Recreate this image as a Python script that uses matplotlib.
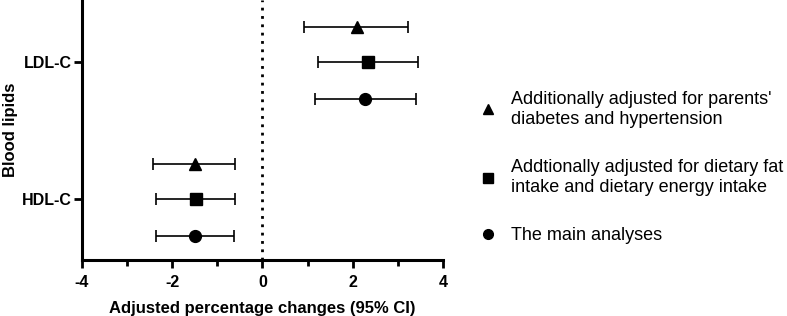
import numpy as np
import matplotlib
matplotlib.use("Agg")
import matplotlib.pyplot as plt
from matplotlib.lines import Line2D

plt.rcParams['font.family'] = ['Liberation Sans', 'DejaVu Sans']
plt.rcParams['axes.unicode_minus'] = False

# data
lipids = ["LDL-C", "HDL-C"]
lipid_pos = [5.42, 1.67]
models = ["Additionally adjusted for parents'\ndiabetes and hypertension",
          "Addtionally adjusted for dietary fat\nintake and dietary energy intake",
          "The main analyses"]
model_markers = ["^", "s", "o"]
model_offset = [0.97, 0.0, -1.02]

est = {"LDL-C": [2.09, 2.33, 2.28], "HDL-C": [-1.50, -1.47, -1.49]}
lo = {"LDL-C": [0.93, 1.22, 1.16], "HDL-C": [-2.42, -2.36, -2.36]}
hi = {"LDL-C": [3.22, 3.45, 3.40], "HDL-C": [-0.60, -0.60, -0.62]}

fig = plt.figure(figsize=(7.87, 3.16), dpi=100)
ax = fig.add_axes([0.104, 0.177, 0.459, 0.823])

for j, m in enumerate(models):
    for i, lip in enumerate(lipids):
        y = lipid_pos[i] + model_offset[j]
        e = est[lip][j]
        ax.errorbar(e, y, xerr=[[e - lo[lip][j]], [hi[lip][j] - e]],
                    fmt=model_markers[j], color='black', ms=8.5,
                    elinewidth=1.2, capsize=4.5, capthick=1.2)

ax.axvline(0, color='black', linestyle=(0, (1, 2)), linewidth=2)

ax.set_xlim(-4, 4)
ax.set_ylim(0, 7.12)
ax.set_xticks([-4, -2, 0, 2, 4])
ax.set_xticks([-3, -1, 1, 3], minor=True)
ax.set_yticks(lipid_pos)
ax.set_yticklabels(lipids)
for s in ['top', 'right']:
    ax.spines[s].set_visible(False)
for s in ['left', 'bottom']:
    ax.spines[s].set_linewidth(2.2)
ax.tick_params(axis='both', which='major', length=6, width=2, labelsize=11.5)
ax.tick_params(axis='x', which='major', pad=5)
ax.tick_params(axis='y', which='major', pad=1.5)
ax.tick_params(axis='x', which='minor', length=4, width=2)
for lab in ax.get_xticklabels() + ax.get_yticklabels():
    lab.set_fontweight('bold')

ax.set_xlabel("Adjusted percentage changes (95% CI)", fontsize=12, fontweight='bold', labelpad=8)
ax.set_ylabel("Blood lipids", fontsize=12, fontweight='bold')
ax.yaxis.set_label_coords(-0.178, 0.5)

handles = [Line2D([], [], marker=mk, color='black', linestyle='none', markersize=7)
           for mk in model_markers]
fig.legend(handles, models, loc='upper left', bbox_to_anchor=(0.599, 0.735),
           frameon=False, fontsize=13, labelspacing=1.75,
           handlelength=1.0, handletextpad=0.8, borderaxespad=0)

fig.savefig("out.png", dpi=100)
